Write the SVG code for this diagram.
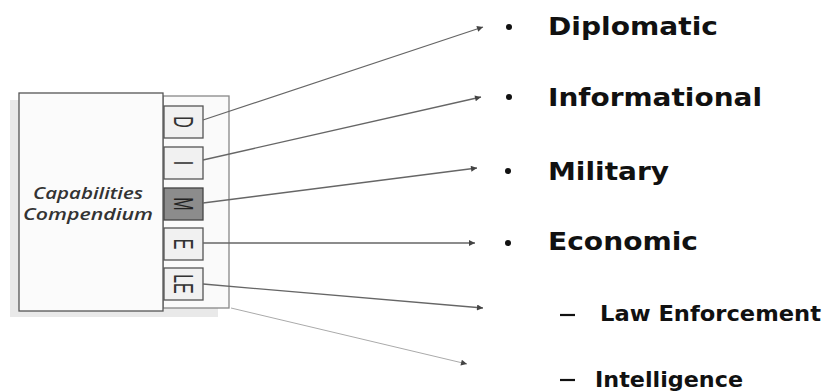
<svg xmlns="http://www.w3.org/2000/svg" width="826" height="391" viewBox="0 0 826 391">
<style>
.main{font-family:"DejaVu Sans","Liberation Sans",sans-serif;font-weight:bold;font-size:25px;fill:#111}
.sub{font-family:"DejaVu Sans","Liberation Sans",sans-serif;font-weight:bold;font-size:22px;fill:#111}
.cap{font-family:"Open Sans","Liberation Sans",sans-serif;font-style:italic;font-weight:600;font-size:16px;fill:#333}
.box{fill:#f1f1f1;stroke:#555;stroke-width:1.3}
.let{font-family:"Liberation Sans",sans-serif;font-size:16px;fill:#333}
.conn{stroke:#666;stroke-width:1.3;fill:none;marker-end:url(#ah)}
.conn2{stroke:#aaa;stroke-width:1;fill:none;marker-end:url(#ah)}
</style>
<defs>
<marker id="ah" viewBox="0 0 10 10" refX="10" refY="5" markerWidth="8" markerHeight="6" markerUnits="userSpaceOnUse" orient="auto">
<path d="M0,0 L10,5 L0,10 z" fill="#444"/>
</marker>
</defs>
<rect width="826" height="391" fill="#fff"/>
<g id="compendium">
<rect x="10" y="100" width="208" height="217" fill="#e9e9e9"/>
<rect x="163" y="96" width="66" height="212" fill="#fafafa" stroke="#888" stroke-width="1.3"/>
<rect x="19" y="93" width="144" height="218" fill="#fbfbfb" stroke="#555" stroke-width="1.3"/>
<text class="cap" x="88" y="199" text-anchor="middle" textLength="110" lengthAdjust="spacingAndGlyphs">Capabilities</text>
<text class="cap" x="88" y="220" text-anchor="middle" textLength="130" lengthAdjust="spacingAndGlyphs">Compendium</text>
</g>
<g id="box-D">
<rect class="box" x="164" y="106" width="39" height="32"/>
<text class="let" transform="translate(183.5,122) rotate(90) scale(1,1.74)" text-anchor="middle" dominant-baseline="central">D</text>
</g>
<g id="box-I">
<rect class="box" x="164" y="147" width="39" height="32"/>
<text class="let" transform="translate(183.5,163) rotate(90) scale(1,1.74)" text-anchor="middle" dominant-baseline="central">I</text>
</g>
<g id="box-M">
<rect class="box" x="164" y="188" width="39" height="32" style="fill:#8c8c8c;stroke:#444"/>
<text class="let" transform="translate(183.5,204) rotate(90) scale(1,1.74)" text-anchor="middle" dominant-baseline="central" style="fill:#222">M</text>
</g>
<g id="box-E">
<rect class="box" x="164" y="228" width="39" height="32"/>
<text class="let" transform="translate(183.5,244) rotate(90) scale(1,1.74)" text-anchor="middle" dominant-baseline="central">E</text>
</g>
<g id="box-LE">
<rect class="box" x="164" y="268" width="39" height="32"/>
<text class="let" transform="translate(183.5,284) rotate(90) scale(1,1.74)" text-anchor="middle" dominant-baseline="central">LE</text>
</g>
<g id="connectors">
<line class="conn" x1="203" y1="120" x2="483" y2="27"/>
<line class="conn" x1="203" y1="160" x2="481" y2="97"/>
<line class="conn" x1="203" y1="203" x2="477" y2="168"/>
<line class="conn" x1="203" y1="243" x2="475" y2="243"/>
<line class="conn" x1="203" y1="284" x2="483" y2="308"/>
<line class="conn2" x1="231" y1="308" x2="467" y2="364"/>
</g>
<g id="item-diplomatic">
<circle cx="509" cy="27" r="3" fill="#111"/>
<text class="main" x="548" y="35" textLength="170" lengthAdjust="spacingAndGlyphs">Diplomatic</text>
</g>
<g id="item-informational">
<circle cx="509" cy="97" r="3" fill="#111"/>
<text class="main" x="548" y="106" textLength="214" lengthAdjust="spacingAndGlyphs">Informational</text>
</g>
<g id="item-military">
<circle cx="508" cy="171" r="3" fill="#111"/>
<text class="main" x="548" y="180" textLength="121" lengthAdjust="spacingAndGlyphs">Military</text>
</g>
<g id="item-economic">
<circle cx="508" cy="243" r="3" fill="#111"/>
<text class="main" x="548" y="250" textLength="150" lengthAdjust="spacingAndGlyphs">Economic</text>
</g>
<g id="item-law-enforcement">
<line x1="560" y1="315" x2="575" y2="315" stroke="#111" stroke-width="2.2"/>
<text class="sub" x="600" y="321" textLength="221" lengthAdjust="spacingAndGlyphs">Law Enforcement</text>
</g>
<g id="item-intelligence">
<line x1="560" y1="380" x2="575" y2="380" stroke="#111" stroke-width="2.2"/>
<text class="sub" x="595" y="387" textLength="148" lengthAdjust="spacingAndGlyphs">Intelligence</text>
</g>
</svg>
